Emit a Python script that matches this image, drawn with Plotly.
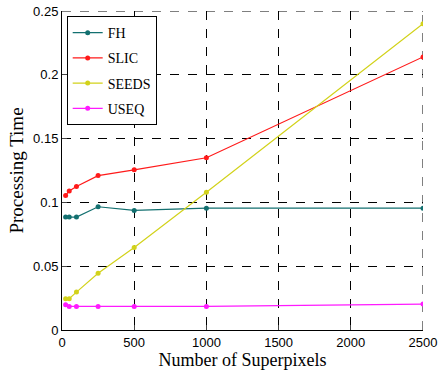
import plotly.graph_objects as go

x_vals = [25, 50, 100, 250, 500, 1000, 2500]
fh = [0.0885, 0.0885, 0.0885, 0.0966, 0.0937, 0.0955, 0.0955]
slic = [0.1055, 0.109, 0.1125, 0.121, 0.1255, 0.135, 0.214]
seeds = [0.0245, 0.0245, 0.0297, 0.0445, 0.0646, 0.108, 0.240]
useq = [0.0198, 0.0185, 0.0185, 0.0185, 0.0185, 0.0185, 0.0203]

series = [("FH", fh, "#137070"), ("SLIC", slic, "#ff1a1a"),
          ("SEEDS", seeds, "#d2d21a"), ("USEQ", useq, "#ff1aff")]

x_ticks = [0, 500, 1000, 1500, 2000, 2500]
y_ticks = [0, 0.05, 0.1, 0.15, 0.2, 0.25]
y_tick_text = ["0", "0.05", "0.1", "0.15", "0.2", "0.25"]

fig = go.Figure()
for name, vals, col in series:
    fig.add_trace(go.Scatter(x=x_vals, y=vals, name=name, mode="lines+markers",
                             legendgroup=name,
                             line=dict(color=col, width=1.2),
                             marker=dict(color=col, size=5)))

# edge grid lines (plotly drops grid lines that sit on the plot edge)
fig.add_shape(type="line", xref="paper", yref="y", x0=0, x1=1,
              y0=y_ticks[-1], y1=y_ticks[-1],
              line=dict(color="black", width=1, dash="dash"), layer="below")
fig.add_shape(type="line", xref="x", yref="paper", x0=x_ticks[-1], x1=x_ticks[-1],
              y0=0, y1=1, line=dict(color="black", width=1, dash="dash"), layer="below")

fig.update_layout(
    width=438, height=374, autosize=False,
    margin=dict(l=62, r=15, t=11, b=44, autoexpand=False),
    paper_bgcolor="white", plot_bgcolor="white",
    font=dict(family="Liberation Sans", size=13, color="black"),
    showlegend=True,
    legend=dict(x=0.013, y=0.984, xanchor="left", yanchor="top",
                bgcolor="white", bordercolor="black", borderwidth=1,
                font=dict(family="Liberation Serif", size=14),
                tracegroupgap=4),
    xaxis=dict(range=[0, 2500], tickvals=x_ticks, ticks="inside", ticklen=5,
               automargin=False,
               showline=True, linecolor="black", linewidth=1,
               showgrid=True, gridcolor="black", griddash="dash", gridwidth=1,
               zeroline=False,
               title=dict(text="Number of Superpixels",
                          font=dict(family="Liberation Serif", size=18), standoff=4)),
    yaxis=dict(range=[0, 0.25], tickvals=y_ticks, ticktext=y_tick_text,
               ticks="inside", ticklen=5, automargin=False,
               showline=True, linecolor="black", linewidth=1,
               showgrid=True, gridcolor="black", griddash="dash", gridwidth=1,
               zeroline=False,
               title=dict(text="Processing Time",
                          font=dict(family="Liberation Serif", size=19), standoff=4)),
)

fig.write_html("out.html", config={"displayModeBar": False},
               post_script="document.body.style.margin='0px';")
